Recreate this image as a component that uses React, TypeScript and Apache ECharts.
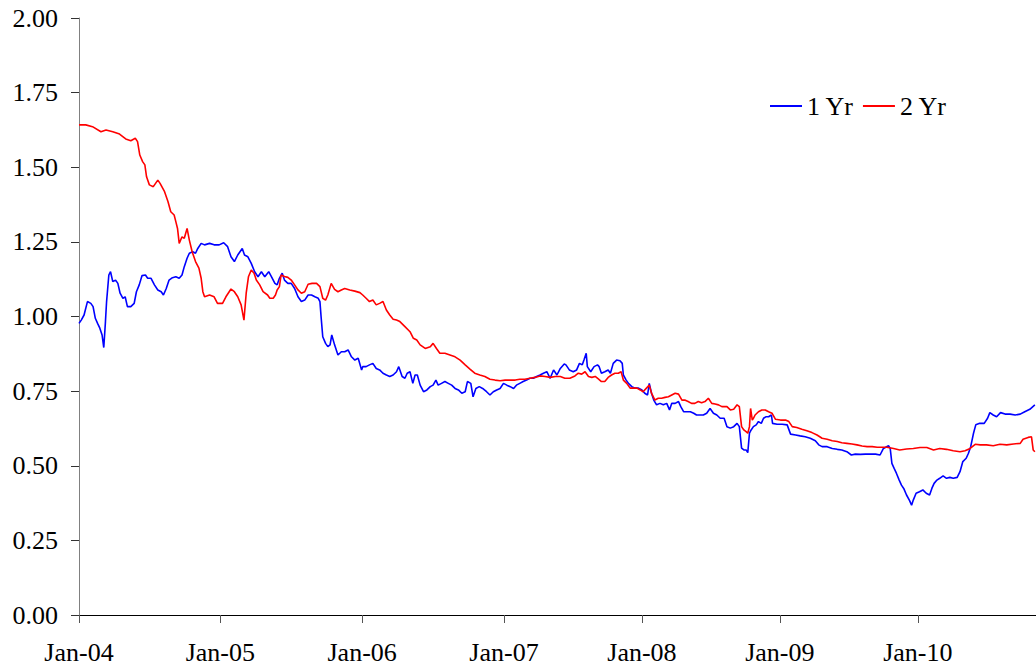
import React, { useEffect, useRef } from "react";
import * as echarts from "echarts";

// x = trading-day index from the start of Jan 2004
const tickDays = [0, 251, 503, 755, 1000, 1245, 1490];
const tickLabels = ["Jan-04", "Jan-05", "Jan-06", "Jan-07", "Jan-08", "Jan-09", "Jan-10"];
const yTicks = [0, 0.25, 0.5, 0.75, 1.0, 1.25, 1.5, 1.75, 2.0];

const oneYrDays = [0, 4, 9, 15, 21, 25, 29, 33, 37, 41, 44, 47, 49, 53, 56, 60, 65, 69, 73, 78, 82, 86, 92, 98, 102, 107, 112, 118, 122, 128, 134, 140, 146, 150, 155, 160, 166, 172, 178, 183, 187, 192, 196, 202, 207, 211, 217, 223, 232, 240, 249, 257, 264, 270, 276, 282, 290, 294, 300, 306, 312, 318, 324, 330, 337, 342, 348, 352, 356, 361, 365, 371, 377, 383, 389, 395, 401, 407, 413, 419, 425, 428, 430, 433, 438, 442, 446, 449, 454, 460, 466, 472, 478, 484, 490, 496, 502, 504, 510, 516, 522, 528, 534, 540, 546, 552, 558, 564, 568, 574, 579, 583, 588, 593, 597, 601, 606, 612, 618, 624, 629, 634, 638, 644, 650, 656, 662, 668, 674, 680, 686, 690, 696, 700, 705, 711, 717, 724, 730, 736, 742, 748, 754, 760, 766, 772, 777, 783, 789, 795, 801, 807, 813, 819, 825, 831, 837, 843, 849, 855, 862, 865, 871, 878, 884, 889, 894, 897, 901, 903, 909, 915, 921, 924, 928, 934, 940, 944, 949, 955, 961, 965, 967, 972, 976, 982, 988, 994, 1000, 1005, 1010, 1013, 1017, 1021, 1026, 1032, 1038, 1044, 1049, 1053, 1059, 1065, 1069, 1074, 1080, 1086, 1092, 1097, 1103, 1109, 1115, 1121, 1127, 1133, 1139, 1146, 1151, 1157, 1163, 1169, 1173, 1177, 1181, 1185, 1188, 1191, 1194, 1198, 1203, 1207, 1212, 1216, 1220, 1225, 1230, 1232, 1240, 1249, 1258, 1264, 1273, 1281, 1290, 1299, 1308, 1314, 1320, 1329, 1338, 1347, 1355, 1364, 1372, 1379, 1388, 1397, 1406, 1415, 1423, 1429, 1438, 1441, 1444, 1448, 1452, 1457, 1461, 1465, 1470, 1475, 1479, 1482, 1487, 1493, 1499, 1505, 1511, 1515, 1519, 1524, 1529, 1535, 1541, 1547, 1553, 1560, 1565, 1570, 1576, 1580, 1584, 1589, 1593, 1600, 1608, 1614, 1618, 1624, 1630, 1637, 1645, 1654, 1663, 1672, 1680, 1689, 1698];
const oneYrValues = [0.977, 0.988, 1.005, 1.05, 1.044, 1.033, 0.994, 0.977, 0.961, 0.938, 0.896, 0.983, 1.05, 1.139, 1.15, 1.117, 1.122, 1.111, 1.078, 1.061, 1.066, 1.033, 1.033, 1.044, 1.083, 1.106, 1.137, 1.139, 1.128, 1.128, 1.106, 1.089, 1.083, 1.072, 1.094, 1.122, 1.13, 1.133, 1.128, 1.139, 1.167, 1.195, 1.212, 1.217, 1.212, 1.228, 1.245, 1.24, 1.245, 1.24, 1.24, 1.247, 1.234, 1.2, 1.184, 1.206, 1.228, 1.206, 1.2, 1.178, 1.15, 1.133, 1.15, 1.133, 1.15, 1.133, 1.111, 1.106, 1.128, 1.145, 1.122, 1.111, 1.111, 1.094, 1.066, 1.05, 1.055, 1.072, 1.072, 1.066, 1.061, 1.05, 1.0, 0.932, 0.91, 0.899, 0.905, 0.938, 0.905, 0.871, 0.882, 0.882, 0.888, 0.865, 0.854, 0.86, 0.821, 0.832, 0.832, 0.838, 0.843, 0.826, 0.821, 0.81, 0.804, 0.799, 0.804, 0.815, 0.832, 0.799, 0.793, 0.81, 0.815, 0.776, 0.804, 0.804, 0.77, 0.748, 0.754, 0.765, 0.77, 0.787, 0.77, 0.776, 0.782, 0.776, 0.77, 0.759, 0.754, 0.743, 0.748, 0.782, 0.776, 0.731, 0.759, 0.765, 0.759, 0.748, 0.737, 0.748, 0.754, 0.759, 0.776, 0.77, 0.765, 0.759, 0.77, 0.776, 0.782, 0.787, 0.793, 0.793, 0.799, 0.804, 0.81, 0.815, 0.793, 0.821, 0.804, 0.826, 0.841, 0.838, 0.821, 0.815, 0.821, 0.843, 0.838, 0.854, 0.877, 0.832, 0.815, 0.832, 0.838, 0.832, 0.81, 0.815, 0.821, 0.81, 0.843, 0.854, 0.852, 0.843, 0.804, 0.787, 0.776, 0.765, 0.76, 0.76, 0.754, 0.743, 0.737, 0.776, 0.743, 0.72, 0.704, 0.709, 0.704, 0.709, 0.687, 0.709, 0.709, 0.715, 0.698, 0.681, 0.681, 0.681, 0.676, 0.67, 0.67, 0.67, 0.676, 0.692, 0.676, 0.67, 0.659, 0.659, 0.631, 0.626, 0.631, 0.642, 0.631, 0.559, 0.553, 0.553, 0.544, 0.609, 0.62, 0.631, 0.637, 0.648, 0.642, 0.659, 0.664, 0.664, 0.67, 0.642, 0.639, 0.639, 0.637, 0.606, 0.603, 0.6, 0.597, 0.592, 0.584, 0.57, 0.564, 0.564, 0.558, 0.555, 0.553, 0.547, 0.536, 0.539, 0.538, 0.539, 0.539, 0.539, 0.536, 0.558, 0.567, 0.558, 0.508, 0.491, 0.475, 0.452, 0.435, 0.424, 0.402, 0.385, 0.368, 0.385, 0.408, 0.413, 0.419, 0.408, 0.402, 0.424, 0.441, 0.452, 0.458, 0.466, 0.458, 0.461, 0.458, 0.461, 0.48, 0.514, 0.525, 0.542, 0.564, 0.609, 0.637, 0.642, 0.642, 0.659, 0.678, 0.67, 0.664, 0.678, 0.673, 0.673, 0.67, 0.673, 0.681, 0.689, 0.704];

const twoYrDays = [0, 12, 24, 39, 48, 60, 72, 83, 92, 100, 104, 108, 113, 117, 120, 125, 132, 140, 144, 152, 158, 163, 169, 172, 175, 178, 183, 187, 192, 196, 201, 207, 213, 217, 220, 223, 232, 240, 246, 255, 261, 270, 276, 282, 288, 293, 297, 301, 306, 311, 315, 321, 327, 335, 339, 345, 349, 352, 356, 359, 365, 371, 377, 383, 389, 395, 401, 407, 414, 422, 428, 433, 438, 442, 448, 454, 460, 466, 472, 481, 490, 499, 504, 510, 516, 522, 528, 534, 540, 546, 552, 558, 564, 570, 579, 588, 594, 600, 606, 615, 624, 629, 635, 641, 650, 659, 668, 677, 686, 695, 703, 712, 721, 730, 739, 748, 757, 766, 775, 783, 792, 801, 810, 819, 828, 837, 846, 855, 863, 872, 881, 887, 893, 899, 905, 911, 917, 923, 928, 934, 940, 946, 952, 958, 963, 967, 973, 979, 985, 991, 997, 1002, 1008, 1013, 1017, 1023, 1029, 1035, 1041, 1047, 1053, 1059, 1065, 1071, 1076, 1082, 1088, 1094, 1100, 1106, 1112, 1118, 1124, 1130, 1136, 1142, 1151, 1157, 1163, 1169, 1173, 1177, 1181, 1185, 1188, 1191, 1193, 1196, 1198, 1201, 1207, 1213, 1219, 1225, 1231, 1237, 1246, 1255, 1261, 1267, 1275, 1284, 1293, 1302, 1311, 1320, 1329, 1338, 1347, 1355, 1364, 1373, 1382, 1391, 1400, 1409, 1418, 1435, 1447, 1458, 1470, 1482, 1494, 1506, 1518, 1529, 1541, 1553, 1565, 1574, 1583, 1592, 1601, 1612, 1624, 1636, 1648, 1660, 1672, 1677, 1686, 1692, 1695, 1698];
const twoYrValues = [1.642, 1.642, 1.636, 1.619, 1.625, 1.619, 1.611, 1.595, 1.589, 1.597, 1.586, 1.541, 1.519, 1.508, 1.468, 1.441, 1.435, 1.457, 1.446, 1.418, 1.385, 1.351, 1.34, 1.318, 1.295, 1.245, 1.267, 1.262, 1.295, 1.256, 1.217, 1.184, 1.162, 1.128, 1.083, 1.066, 1.072, 1.066, 1.044, 1.044, 1.066, 1.092, 1.083, 1.066, 1.039, 0.988, 1.078, 1.133, 1.156, 1.145, 1.122, 1.106, 1.083, 1.072, 1.061, 1.061, 1.072, 1.089, 1.1, 1.139, 1.134, 1.131, 1.122, 1.106, 1.089, 1.078, 1.083, 1.108, 1.111, 1.111, 1.1, 1.061, 1.055, 1.072, 1.111, 1.091, 1.083, 1.089, 1.094, 1.089, 1.085, 1.08, 1.072, 1.061, 1.05, 1.055, 1.039, 1.044, 1.05, 1.022, 1.005, 0.991, 0.988, 0.983, 0.966, 0.949, 0.927, 0.921, 0.905, 0.893, 0.899, 0.91, 0.893, 0.877, 0.877, 0.871, 0.865, 0.854, 0.838, 0.823, 0.81, 0.804, 0.799, 0.79, 0.787, 0.785, 0.787, 0.787, 0.787, 0.79, 0.79, 0.793, 0.796, 0.801, 0.799, 0.796, 0.799, 0.799, 0.793, 0.793, 0.801, 0.81, 0.807, 0.815, 0.799, 0.796, 0.799, 0.79, 0.782, 0.782, 0.796, 0.804, 0.81, 0.81, 0.815, 0.787, 0.776, 0.76, 0.76, 0.76, 0.754, 0.748, 0.76, 0.77, 0.743, 0.72, 0.726, 0.726, 0.729, 0.731, 0.737, 0.743, 0.74, 0.72, 0.72, 0.715, 0.709, 0.709, 0.715, 0.711, 0.715, 0.726, 0.709, 0.707, 0.704, 0.698, 0.698, 0.687, 0.689, 0.704, 0.698, 0.631, 0.62, 0.614, 0.609, 0.631, 0.692, 0.653, 0.659, 0.67, 0.681, 0.687, 0.687, 0.681, 0.676, 0.656, 0.653, 0.653, 0.648, 0.631, 0.628, 0.622, 0.617, 0.611, 0.603, 0.592, 0.589, 0.584, 0.581, 0.577, 0.575, 0.573, 0.57, 0.566, 0.564, 0.564, 0.562, 0.562, 0.558, 0.553, 0.556, 0.558, 0.561, 0.561, 0.553, 0.558, 0.555, 0.55, 0.547, 0.55, 0.558, 0.572, 0.57, 0.57, 0.567, 0.572, 0.57, 0.573, 0.575, 0.589, 0.595, 0.597, 0.553, 0.547];

const FONT = "'Liberation Serif', 'Times New Roman', serif";

export default function App() {
  const ref = useRef<HTMLDivElement>(null);
  useEffect(() => {
    if (!ref.current) return;
    const chart = echarts.init(ref.current, null, { renderer: "svg" });
    const oneYr = oneYrDays.map((d, i) => [d, oneYrValues[i]]);
    const twoYr = twoYrDays.map((d, i) => [d, twoYrValues[i]]);
    chart.setOption({
      animation: false,
      backgroundColor: "#ffffff",
      textStyle: { fontFamily: FONT },
      grid: { left: 79, top: 18, right: 0, bottom: 56, containLabel: false },
      legend: {
        left: 765,
        top: 88,
        icon: "rect",
        itemWidth: 32,
        itemHeight: 2,
        itemGap: 9,
        textStyle: { fontFamily: FONT, fontSize: 26, color: "#000" },
        data: ["1 Yr", "2 Yr"],
      },
      xAxis: {
        type: "value",
        min: 0,
        max: 1700,
        splitLine: { show: false },
        axisLine: { show: true, lineStyle: { color: "#000", width: 1 } },
        axisTick: {
          show: true,
          inside: false,
          length: 8,
          customValues: tickDays,
          lineStyle: { color: "#555" },
        },
        axisLabel: {
          customValues: tickDays,
          margin: 24,
          fontFamily: FONT,
          fontSize: 26,
          color: "#000",
          formatter: (v: number) => {
            const i = tickDays.indexOf(v);
            return i >= 0 ? tickLabels[i] : "";
          },
        },
      },
      yAxis: {
        type: "value",
        min: yTicks[0],
        max: yTicks[yTicks.length - 1],
        interval: 0.25,
        splitLine: { show: false },
        axisLine: { show: true, lineStyle: { color: "#808080", width: 1 } },
        axisTick: { show: true, inside: false, length: 8, lineStyle: { color: "#333" } },
        axisLabel: {
          margin: 21,
          fontFamily: FONT,
          fontSize: 26,
          color: "#000",
          formatter: (v: number) => v.toFixed(2),
        },
      },
      series: [
        {
          name: "1 Yr",
          type: "line",
          data: oneYr,
          showSymbol: false,
          symbol: "none",
          lineStyle: { color: "#0000FF", width: 1.6 },
          itemStyle: { color: "#0000FF" },
        },
        {
          name: "2 Yr",
          type: "line",
          data: twoYr,
          showSymbol: false,
          symbol: "none",
          lineStyle: { color: "#FF0000", width: 1.6 },
          itemStyle: { color: "#FF0000" },
        },
      ],
    });
    return () => chart.dispose();
  }, []);
  return (
    <div
      ref={ref}
      style={{ position: "absolute", left: 0, top: 0, width: 1036, height: 671, background: "#fff" }}
    />
  );
}
